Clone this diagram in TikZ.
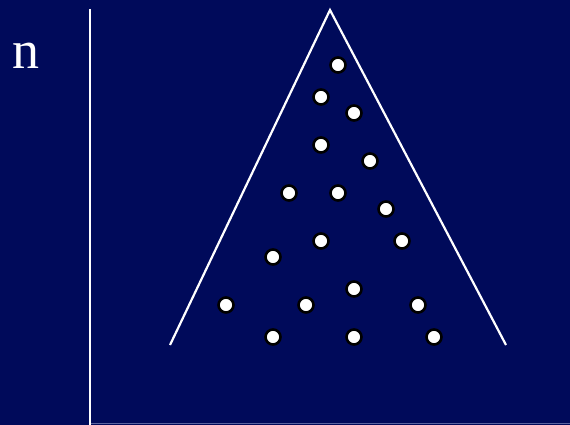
\documentclass[tikz,border=0pt]{standalone}
\usepackage{fontspec}
\setmainfont{Liberation Serif}
\definecolor{navy}{RGB}{0,10,90}
\definecolor{faint}{RGB}{90,100,160}
\tikzset{
  ball/.style={circle, fill=white, draw=black, line width=2.6pt, minimum size=15pt, inner sep=0pt},
  axis/.style={white, line width=2.2pt},
  tri/.style={white, line width=2.2pt, line join=miter}
}
\begin{document}
\begin{tikzpicture}[x=1pt,y=-1pt]
\fill[navy] (0,0) rectangle (570,425);
\useasboundingbox (0,0) rectangle (570,425);
\node[white, font=\fontsize{54}{60}\selectfont, anchor=base west, inner sep=0pt] (lbl) at (12,69) {n};
\coordinate (ytop) at (90,9);
\coordinate (ybot) at (90,425);
\coordinate (xend) at (570,423.5);
\coordinate (xstart) at (91,423.5);
\draw[axis] (ytop) -- (ybot);
\draw[faint, line width=1pt] (xstart) -- (xend);
\coordinate (bl) at (170,345);
\coordinate (apex) at (330,10);
\coordinate (br) at (506,345);
\draw[tri] (bl) -- (apex) -- (br);
\foreach \x/\y [count=\i] in {338/65,321/97,354/113,321/145,370/161,289/193,338/193,386/209,321/241,402/241,273/257,354/289,226/305,306/305,418/305,273/337,354/337,434/337}
  \node[ball] (b\i) at (\x,\y) {};
\end{tikzpicture}
\end{document}
